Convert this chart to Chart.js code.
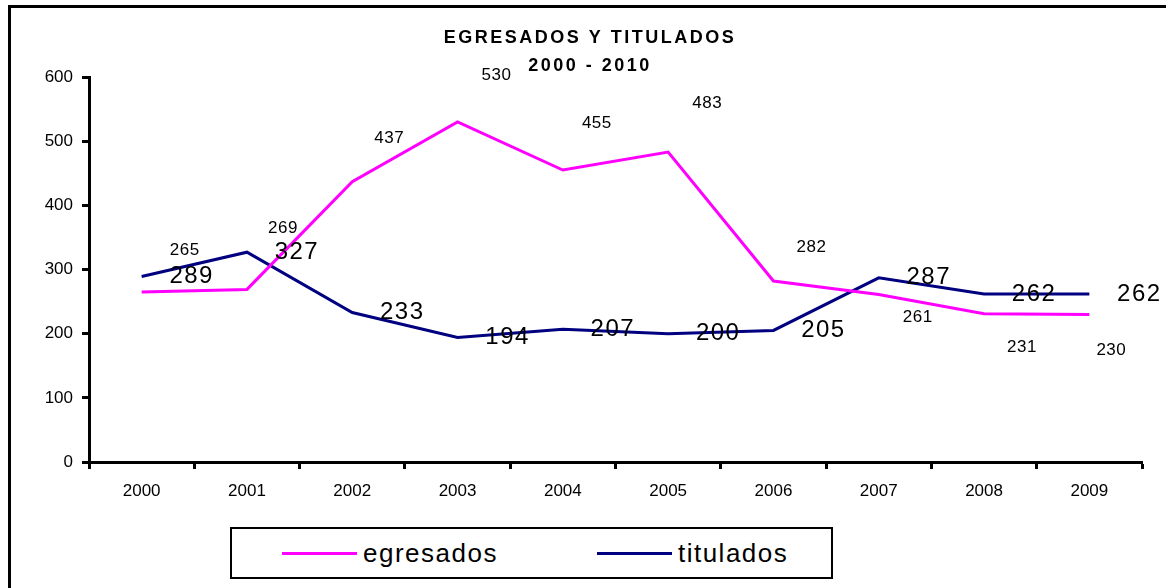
<!DOCTYPE html>
<html>
<head>
<meta charset="utf-8">
<script src="https://cdn.jsdelivr.net/npm/chart.js@4.4.1/dist/chart.umd.min.js"></script>
<style>
  html, body { margin:0; padding:0; background:#fff; overflow:hidden; }
  body { width:1166px; height:588px; position:relative; font-family:"Liberation Sans", Arial, sans-serif; }
  #frame { position:absolute; left:8px; top:5px; width:1200px; height:640px; border:3px solid #000; box-sizing:border-box; }
  #c { position:absolute; left:0; top:0; }
  #legend { position:absolute; left:230px; top:527px; width:603px; height:52px; border:2px solid #000; box-sizing:border-box;
            display:flex; align-items:center; padding-left:50px; gap:99px; background:#fff; }
  .item { display:flex; align-items:center; }
  .swatch { width:75px; height:3px; margin-right:6px; }
  .lbl { font-size:26px; letter-spacing:1.5px; color:#000; line-height:1; }
</style>
</head>
<body>
<div id="frame"></div>
<canvas id="c" width="1166" height="588"></canvas>
<div id="legend"></div>
<script>
// ---- data ----
const categories = ['2000','2001','2002','2003','2004','2005','2006','2007','2008','2009'];
const egresados  = [265, 269, 437, 530, 455, 483, 282, 261, 231, 230];
const titulados  = [289, 327, 233, 194, 207, 200, 205, 287, 262, 262];
const seriesNames = ['egresados', 'titulados'];
const titleLines = ['EGRESADOS Y TITULADOS', '2000 - 2010'];
const yTicks = [0, 100, 200, 300, 400, 500, 600];

// ---- styling ----
const colors = ['#FF00FF', '#000080'];
const FONT = '"Liberation Sans", Arial, sans-serif';
// label offsets (pixels from each point), style only
const egrLabelOffsets = [[43,-42],[36,-61],[37,-43],[39,-47],[34,-47],[39,-49],[38,-34],[39,23],[38,34],[22,36]];
const titLabelOffset = [50, 0];

const titlePlugin = {
  id: 'customTitle',
  afterDraw(chart) {
    const ctx = chart.ctx;
    ctx.save();
    ctx.fillStyle = '#000';
    ctx.font = 'bold 18px ' + FONT;
    ctx.letterSpacing = '2.5px';
    ctx.textAlign = 'center';
    ctx.textBaseline = 'middle';
    ctx.fillText(titleLines[0], 590, 38);
    ctx.fillText(titleLines[1], 590, 66);
    ctx.restore();
  }
};

const labelPlugin = {
  id: 'pointLabels',
  afterDatasetsDraw(chart) {
    const ctx = chart.ctx;
    ctx.save();
    ctx.fillStyle = '#000';
    ctx.textAlign = 'center';
    ctx.textBaseline = 'middle';
    chart.data.datasets.forEach((ds, di) => {
      const meta = chart.getDatasetMeta(di);
      meta.data.forEach((pt, i) => {
        let dx, dy;
        if (di === 0) {
          ctx.font = '17px ' + FONT; ctx.letterSpacing = '0.5px';
          [dx, dy] = egrLabelOffsets[i];
        } else {
          ctx.font = '24px ' + FONT; ctx.letterSpacing = '1.5px';
          [dx, dy] = titLabelOffset;
        }
        ctx.fillText(String(ds.data[i]), pt.x + dx, pt.y + dy);
      });
    });
    ctx.restore();
  }
};

const chart = new Chart(document.getElementById('c'), {
  type: 'line',
  data: {
    labels: categories,
    datasets: [
      { label: seriesNames[0], data: egresados, borderColor: colors[0], backgroundColor: colors[0], borderWidth: 3, pointRadius: 0, tension: 0 },
      { label: seriesNames[1], data: titulados, borderColor: colors[1], backgroundColor: colors[1], borderWidth: 3, pointRadius: 0, tension: 0 }
    ]
  },
  options: {
    responsive: false,
    devicePixelRatio: 1,
    animation: false,
    layout: { padding: { top: 77, right: 24, left: 0, bottom: 0 } },
    plugins: { legend: { display: false }, title: { display: false }, tooltip: { enabled: false } },
    scales: {
      x: {
        type: 'category',
        offset: true,
        grid: { offset: true, drawOnChartArea: false, drawTicks: true, tickLength: 7, tickWidth: 3, tickColor: '#000' },
        border: { display: true, color: '#000', width: 3 },
        ticks: { color: '#000', font: { family: FONT, size: 17 }, padding: 12, maxRotation: 0, autoSkip: false },
        afterFit(s) { s.height = 126; }
      },
      y: {
        min: 0, max: 600,
        afterBuildTicks(s) { s.ticks = yTicks.map(v => ({ value: v })); },
        grid: { drawOnChartArea: false, drawTicks: true, tickLength: 7, tickWidth: 3, tickColor: '#000' },
        border: { display: true, color: '#000', width: 3 },
        ticks: { color: '#000', font: { family: FONT, size: 17 }, padding: 9 },
        afterFit(s) { s.width = 89; }
      }
    }
  },
  plugins: [titlePlugin, labelPlugin]
});

// legend built from datasets
const leg = document.getElementById('legend');
chart.data.datasets.forEach(ds => {
  const it = document.createElement('div'); it.className = 'item';
  const sw = document.createElement('div'); sw.className = 'swatch'; sw.style.background = ds.borderColor;
  const tx = document.createElement('span'); tx.className = 'lbl'; tx.textContent = ds.label;
  it.appendChild(sw); it.appendChild(tx); leg.appendChild(it);
});
</script>
</body>
</html>
